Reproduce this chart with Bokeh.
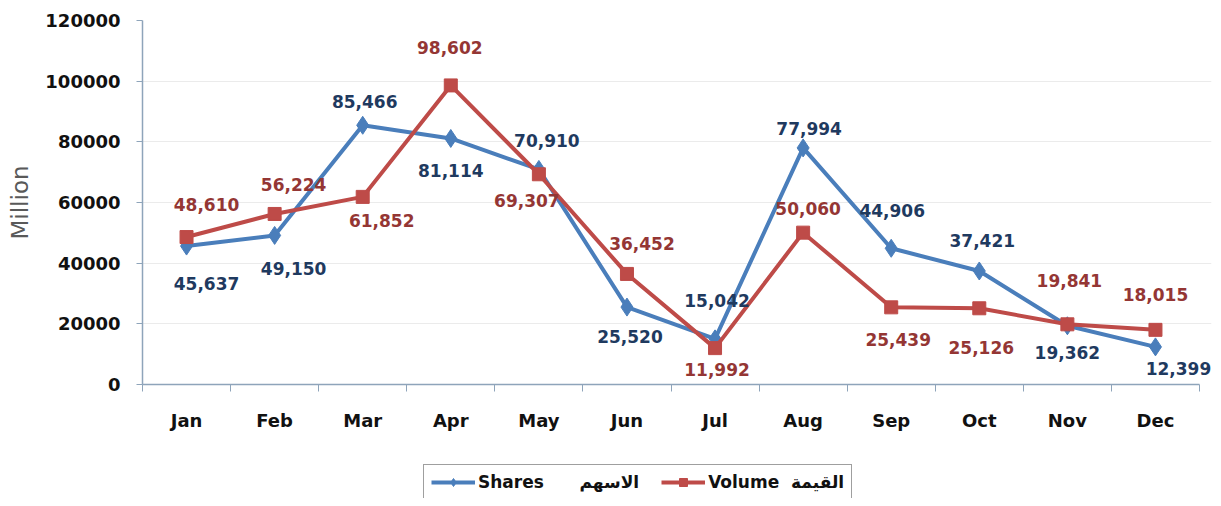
import numpy as np
from bokeh.plotting import figure
from bokeh.layouts import column
from bokeh.models import (ColumnDataSource, LabelSet, Legend, LegendItem, FixedTicker,
                          Range1d, NumeralTickFormatter)
from bokeh.core.properties import value
from bokeh.embed import file_html
from bokeh.resources import INLINE

months = ["Jan", "Feb", "Mar", "Apr", "May", "Jun", "Jul", "Aug", "Sep", "Oct", "Nov", "Dec"]
shares = [45637, 49150, 85466, 81114, 70910, 25520, 15042, 77994, 44906, 37421, 19362, 12399]
volume = [48610, 56224, 61852, 98602, 69307, 36452, 11992, 50060, 25439, 25126, 19841, 18015]
y_ticks = [0, 20000, 40000, 60000, 80000, 100000, 120000]
legend_labels = ["Shares      الاسهم", "Volume  القيمة"]
y_title = "Million"

# label offsets in screen px (style, not data)
shares_dx = [20, 19, 2, 0, 8, 3, 2, 6, 1, 3, 0, 23]
shares_dy = [-37, -33, 24, -32, 29, -29, 38, 19, 38, 30, -27, -22]
volume_dx = [20, 19, 19, -1, -12, 15, 2, 5, 7, 2, 2, 0]
volume_dy = [33, 29, -24, 38, -26, 30, -21, 24, -32, -39, 44, 35]

BLUE = "#4A7EBB"
RED = "#BE4B48"
BLUE_T = "#1F3A5F"
RED_T = "#943634"
AXIS = "#8EA4BA"
font = "DejaVu Sans"

xs = np.arange(len(months)) + 0.5

src = ColumnDataSource(dict(x=xs, shares=shares, volume=volume,
                            s_lab=[f"{v:,}" for v in shares],
                            v_lab=[f"{v:,}" for v in volume],
                            sdx=shares_dx, sdy=shares_dy, vdx=volume_dx, vdy=volume_dy))

n = len(months)
W = 1213
frame_w = W - 142 - 2
p = figure(width=W, height=454, output_backend="svg", toolbar_location=None,
           x_range=Range1d(0, n * frame_w / 1057.0), y_range=Range1d(0, 120000),
           min_border_left=142, min_border_right=2, min_border_top=20, min_border_bottom=70)
p.outline_line_color = None
p.background_fill_color = "white"

p.line("x", "shares", source=src, line_color=BLUE, line_width=4)
p.scatter("x", "shares", source=src, marker="diamond", size=18, fill_color=BLUE, line_color=BLUE)
p.line("x", "volume", source=src, line_color=RED, line_width=4)
p.scatter("x", "volume", source=src, marker="square", size=13, fill_color=RED, line_color=RED)

p.add_layout(LabelSet(x="x", y="shares", text="s_lab", source=src, x_offset="sdx", y_offset="sdy",
                      text_align="center", text_baseline="middle", text_font=value(font),
                      text_font_style="bold", text_font_size="17px", text_color=BLUE_T))
p.add_layout(LabelSet(x="x", y="volume", text="v_lab", source=src, x_offset="vdx", y_offset="vdy",
                      text_align="center", text_baseline="middle", text_font=value(font),
                      text_font_style="bold", text_font_size="17px", text_color=RED_T))

# axes
p.xaxis.bounds = (0, n)
p.xaxis.ticker = FixedTicker(ticks=list(xs), minor_ticks=list(range(n + 1)))
p.xaxis.major_label_overrides = {float(x): m for x, m in zip(xs, months)}
p.xaxis.major_tick_line_color = None
p.xaxis.minor_tick_out = 7
p.xaxis.minor_tick_in = 0
p.xaxis.minor_tick_line_color = AXIS
p.xaxis.axis_line_color = AXIS
p.xaxis.axis_line_width = 1.5
p.xaxis.major_label_text_font = font
p.xaxis.major_label_text_font_style = "bold"
p.xaxis.major_label_text_font_size = "18px"
p.xaxis.major_label_text_color = "#111111"
p.xaxis.major_label_standoff = 18

p.yaxis.ticker = FixedTicker(ticks=y_ticks, minor_ticks=[])
p.yaxis.formatter = NumeralTickFormatter(format="0")
p.yaxis.axis_line_color = AXIS
p.yaxis.axis_line_width = 1.5
p.yaxis.major_tick_line_color = AXIS
p.yaxis.major_tick_out = 6
p.yaxis.major_tick_in = 0
p.yaxis.major_label_text_font = font
p.yaxis.major_label_text_font_style = "bold"
p.yaxis.major_label_text_font_size = "18px"
p.yaxis.major_label_text_color = "#111111"
p.yaxis.major_label_standoff = 16
p.yaxis.axis_label = y_title
p.yaxis.axis_label_text_font = font
p.yaxis.axis_label_text_font_style = "normal"
p.yaxis.axis_label_text_font_size = "23px"
p.yaxis.axis_label_text_color = "#595959"
p.yaxis.axis_label_standoff = 9

p.xgrid.grid_line_color = None
p.ygrid.ticker = FixedTicker(ticks=y_ticks)
p.ygrid.grid_line_color = "#EBEBEB"

# legend strip (separate figure so the legend is not clipped by the plot frame)
lg = figure(width=W, height=44, output_backend="svg", toolbar_location=None,
            x_range=Range1d(0, 1), y_range=Range1d(0, 1),
            min_border_left=0, min_border_right=0, min_border_top=0, min_border_bottom=0)
lg.axis.visible = False
lg.grid.visible = False
lg.outline_line_color = None
l1 = lg.line([-5, -4], [-5, -4], line_color=BLUE, line_width=4)
m1 = lg.scatter([-5], [-5], marker="diamond", size=15, fill_color=BLUE, line_color=BLUE)
l2 = lg.line([-5, -4], [-5, -4], line_color=RED, line_width=4)
m2 = lg.scatter([-5], [-5], marker="square", size=13, fill_color=RED, line_color=RED)

legend = Legend(items=[LegendItem(label=legend_labels[0], renderers=[l1, m1]),
                       LegendItem(label=legend_labels[1], renderers=[l2, m2])],
                orientation="horizontal", location=(281, -2),
                glyph_width=44, glyph_height=20, label_text_font=font, label_text_font_style="bold",
                label_text_font_size="17px", label_text_color="#111111",
                border_line_color="#404040", border_line_width=1.5,
                padding=7, spacing=22, margin=0, label_standoff=3)
lg.add_layout(legend, "center")

layout = column(p, lg, spacing=0)
open("out.html", "w").write(file_html(layout, INLINE))
